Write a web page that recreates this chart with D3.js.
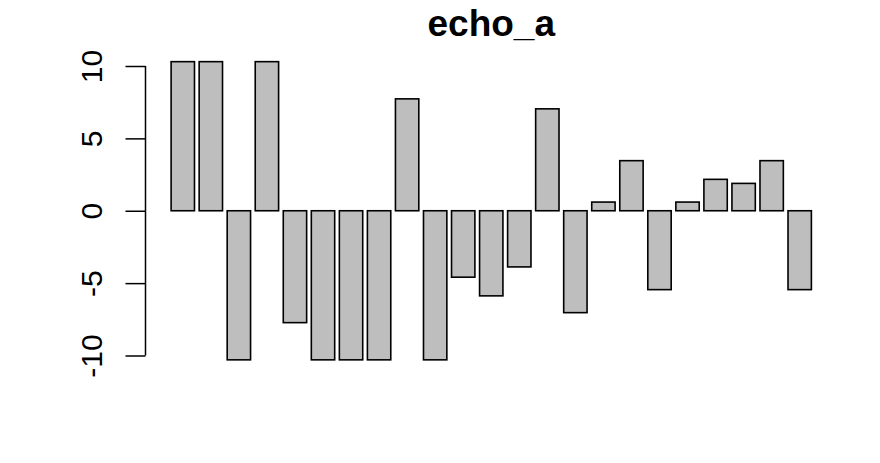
<!DOCTYPE html>
<html>
<head>
<meta charset="utf-8">
<script src="https://cdn.jsdelivr.net/npm/d3@7"></script>
<style>
  html, body { margin: 0; padding: 0; background: #fff; }
  svg { display: block; }
</style>
</head>
<body>
<svg id="chart" width="880" height="463"></svg>
<script>
const title = "echo_a";
const categories = d3.range(1, 24).map(String);
const values = [10.3, 10.3, -10.3, 10.3, -7.73, -10.3, -10.3, -10.3, 7.73, -10.3,
                -4.59, -5.88, -3.88, 7.04, -7.04, 0.6, 3.46, -5.45, 0.6, 2.17, 1.89, 3.46, -5.45];
const yTicks = [-10, -5, 0, 5, 10];

const svg = d3.select("#chart");
const font = "'Liberation Sans', Arial, Helvetica, sans-serif";

// R barplot geometry: width 1, space 0.2
const n = values.length;
const lefts = values.map((d, i) => 0.2 + 1.2 * i);
const xmin = 0.2, xmax = 0.2 + 1.2 * (n - 1) + 1;
const ext = (xmax - xmin) * 0.04;
const x = d3.scaleLinear().domain([xmin - ext, xmax + ext]).range([145.5, 837]);
const y = d3.scaleLinear().domain([-10, 10]).range([355.5, 66]);

// bars
svg.append("g").selectAll("rect")
  .data(values)
  .join("rect")
  .attr("x", (d, i) => x(lefts[i]))
  .attr("width", (d, i) => x(lefts[i] + 1) - x(lefts[i]))
  .attr("y", d => y(Math.max(0, d)))
  .attr("height", d => Math.abs(y(d) - y(0)))
  .attr("fill", "#bebebe")
  .attr("stroke", "#000")
  .attr("stroke-width", 1.6);

// y axis
const axis = d3.axisLeft(y).tickValues(yTicks).tickSize(20).tickPadding(0).tickFormat(d3.format("d"));
const g = svg.append("g").attr("transform", `translate(${x.range()[0]},0)`).call(axis);
g.select(".domain").attr("d", `M0,${y(-10)}V${y(10)}`).attr("stroke-width", 1.5);
g.selectAll(".tick line").attr("stroke-width", 1.5);
g.selectAll(".tick text")
  .attr("x", null).attr("dy", null)
  .attr("transform", "translate(-44,0) rotate(-90)")
  .attr("text-anchor", "middle")
  .attr("font-family", font)
  .attr("font-size", 30)
  .attr("fill", "#000")
  .text(d => d < 0 ? "-" + Math.abs(d) : String(d));

// title
svg.append("text")
  .attr("x", (x.range()[0] + x.range()[1]) / 2)
  .attr("y", 36)
  .attr("text-anchor", "middle")
  .attr("font-family", font)
  .attr("font-weight", "bold")
  .attr("font-size", 37)
  .text(title);
</script>
</body>
</html>
